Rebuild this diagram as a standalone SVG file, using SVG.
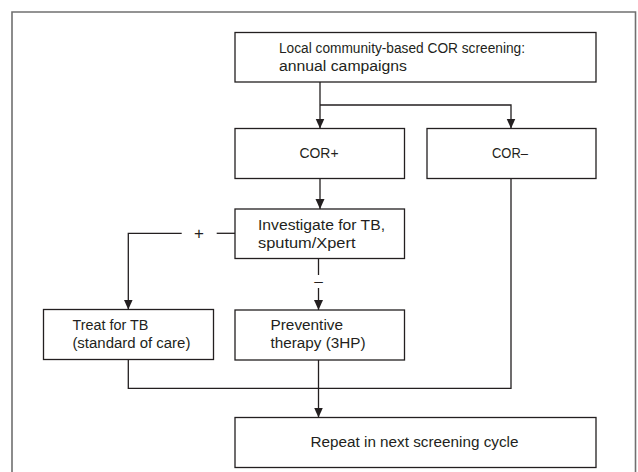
<svg xmlns="http://www.w3.org/2000/svg" width="638" height="472" viewBox="0 0 638 472">
<style>
.box{fill:#fff;stroke:#231f20;stroke-width:1.3}
.t{font-family:"Liberation Sans",Arial,sans-serif;font-size:15.5px;fill:#231f20}
.c{text-anchor:middle}
.ln{fill:none;stroke:#231f20;stroke-width:1.3}
</style>
<defs>
<marker id="ah" markerUnits="userSpaceOnUse" markerWidth="10" markerHeight="10" refX="10" refY="5" orient="auto">
<path d="M0,0.5 L10,5 L0,9.5 z" fill="#231f20"/>
</marker>
</defs>
<rect x="0" y="0" width="638" height="472" fill="#fff"/>
<path d="M12,480 V12 H635.5 V480" fill="none" stroke="#707070" stroke-width="1.6"/>

<g id="connectors">
<path class="ln" d="M320,82 V128.5" marker-end="url(#ah)"/>
<path class="ln" d="M320,105 H511 V128.5" marker-end="url(#ah)"/>
<path class="ln" d="M320,178.5 V209" marker-end="url(#ah)"/>
<path class="ln" d="M235,233.3 H216.7"/>
<path class="ln" d="M181.7,233.3 H128.3 V309.5" marker-end="url(#ah)"/>
<path class="ln" d="M318.5,258.5 V275"/>
<path class="ln" d="M318.5,288 V310" marker-end="url(#ah)"/>
<path class="ln" d="M128.3,359.5 V388.3 H511 V178.5"/>
<path class="ln" d="M318.5,360 V417.5" marker-end="url(#ah)"/>
<text class="t c" x="199" y="239" style="font-size:17px">+</text>
<text class="t c" x="318.5" y="286">–</text>
</g>

<g id="screening">
<rect class="box" x="235" y="32.5" width="361" height="49.5"/>
<text class="t" x="279" y="53" textLength="246" lengthAdjust="spacingAndGlyphs">Local community-based COR screening:</text>
<text class="t" x="279" y="71" textLength="128" lengthAdjust="spacingAndGlyphs">annual campaigns</text>
</g>

<g id="corpos">
<rect class="box" x="235" y="128.5" width="169.5" height="50"/>
<text class="t c" x="319" y="158" textLength="39" lengthAdjust="spacingAndGlyphs">COR+</text>
</g>

<g id="corneg">
<rect class="box" x="427" y="128.5" width="169" height="50"/>
<text class="t c" x="510" y="158" textLength="36" lengthAdjust="spacingAndGlyphs">COR–</text>
</g>

<g id="investigate">
<rect class="box" x="235" y="209" width="169.5" height="49.5"/>
<text class="t" x="258" y="230" textLength="127" lengthAdjust="spacingAndGlyphs">Investigate for TB,</text>
<text class="t" x="258" y="248" textLength="97.5" lengthAdjust="spacingAndGlyphs">sputum/Xpert</text>
</g>

<g id="treat">
<rect class="box" x="43.5" y="309.5" width="170" height="50"/>
<text class="t" x="72.4" y="329.5" textLength="76" lengthAdjust="spacingAndGlyphs">Treat for TB</text>
<text class="t" x="72.4" y="347.5" textLength="118" lengthAdjust="spacingAndGlyphs">(standard of care)</text>
</g>

<g id="preventive">
<rect class="box" x="235" y="310" width="169.5" height="50"/>
<text class="t" x="270.5" y="329.5" textLength="72.5" lengthAdjust="spacingAndGlyphs">Preventive</text>
<text class="t" x="270.5" y="347.5" textLength="95" lengthAdjust="spacingAndGlyphs">therapy (3HP)</text>
</g>

<g id="repeat">
<rect class="box" x="235" y="417.5" width="361" height="50"/>
<text class="t c" x="414.5" y="447" textLength="208" lengthAdjust="spacingAndGlyphs">Repeat in next screening cycle</text>
</g>
</svg>
